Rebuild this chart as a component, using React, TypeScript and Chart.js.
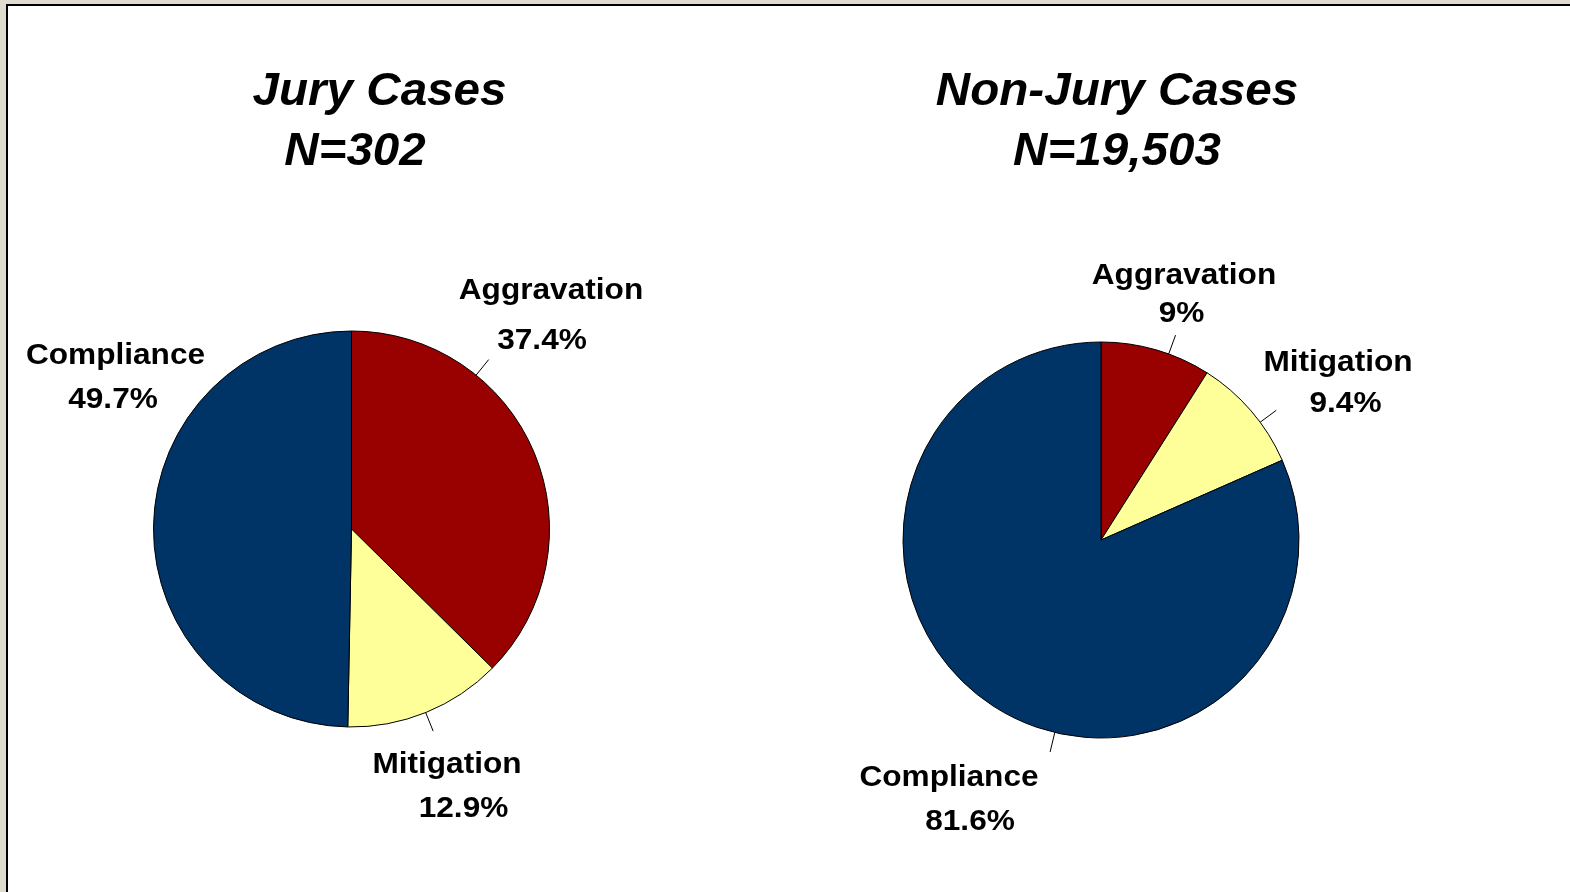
import React, { useEffect, useRef } from "react";
import { Chart, registerables } from "chart.js";

Chart.register(...registerables);

// ---- Data ----
const categories = ["Aggravation", "Mitigation", "Compliance"];
const juryValues = [37.4, 12.9, 49.7];
const nonJuryValues = [9, 9.4, 81.6];
const juryPctLabels = ["37.4%", "12.9%", "49.7%"];
const nonJuryPctLabels = ["9%", "9.4%", "81.6%"];
const juryTitle = ["Jury Cases", "N=302"];
const nonJuryTitle = ["Non-Jury Cases", "N=19,503"];

// ---- Styles ----
const sliceColors = ["#990000", "#FFFF99", "#003366"];
const FONT_FAMILY = "'Liberation Sans', Arial, Helvetica, sans-serif";
const TITLE_FONT = `italic bold 46px ${FONT_FAMILY}`;
const LABEL_FONT = `bold 29px ${FONT_FAMILY}`;
const TITLE_SX = 1.035;
const LABEL_SX = 1.09;

type Off = { dx: number; dy: number };
type LabelLayout = { name: Off; pct: Off; leader: number | null };
type Layout = {
  padding: { left: number; right: number; top: number; bottom: number };
  title: Off[];
  labels: LabelLayout[];
};

// ---- Layout (offsets relative to the pie centre) ----
const juryLayout: Layout = {
  padding: { left: 152.5, right: 234.5, top: 330.5, bottom: 164.5 },
  title: [
    { dx: 28, dy: -424 },
    { dx: 3.5, dy: -364 },
  ],
  labels: [
    { name: { dx: 199.5, dy: -230 }, pct: { dx: 190.5, dy: -180 }, leader: 39 },
    { name: { dx: 95.5, dy: 244 }, pct: { dx: 112, dy: 288 }, leader: 158 },
    { name: { dx: -236, dy: -165 }, pct: { dx: -238.5, dy: -121 }, leader: null },
  ],
};

const nonJuryLayout: Layout = {
  padding: { left: 117, right: 270, top: 341.5, bottom: 153.5 },
  title: [
    { dx: 16, dy: -435 },
    { dx: 16, dy: -375 },
  ],
  labels: [
    { name: { dx: 83, dy: -256 }, pct: { dx: 80.5, dy: -218 }, leader: 20 },
    { name: { dx: 237, dy: -169 }, pct: { dx: 244.5, dy: -128 }, leader: 53.5 },
    { name: { dx: -152, dy: 246 }, pct: { dx: -131, dy: 290 }, leader: 193.5 },
  ],
};

function makeLabelPlugin(titleLines: string[], pctLabels: string[], layout: Layout) {
  return {
    id: "pieLabels",
    afterDraw(chart: any) {
      const arcs = chart.getDatasetMeta(0).data;
      if (!arcs.length) return;
      const cx = arcs[0].x;
      const cy = arcs[0].y;
      const r = arcs[0].outerRadius;
      const ctx: CanvasRenderingContext2D = chart.ctx;
      ctx.save();
      ctx.fillStyle = "#000";
      ctx.textAlign = "center";
      ctx.textBaseline = "alphabetic";
      const draw = (text: string, x: number, y: number, font: string, sx: number) => {
        ctx.save();
        ctx.translate(x, y);
        ctx.scale(sx, 1);
        ctx.font = font;
        ctx.fillText(text, 0, 0);
        ctx.restore();
      };
      layout.title.forEach((t, i) => draw(titleLines[i], cx + t.dx, cy + t.dy, TITLE_FONT, TITLE_SX));
      const labels: string[] = chart.data.labels;
      layout.labels.forEach((l, i) => {
        draw(labels[i], cx + l.name.dx, cy + l.name.dy, LABEL_FONT, LABEL_SX);
        draw(pctLabels[i], cx + l.pct.dx, cy + l.pct.dy, LABEL_FONT, LABEL_SX);
        if (l.leader !== null) {
          const a = (l.leader * Math.PI) / 180;
          ctx.beginPath();
          ctx.strokeStyle = "#000";
          ctx.lineWidth = 1;
          ctx.moveTo(cx + r * Math.sin(a), cy - r * Math.cos(a));
          ctx.lineTo(cx + (r + 20) * Math.sin(a), cy - (r + 20) * Math.cos(a));
          ctx.stroke();
        }
      });
      ctx.restore();
    },
  };
}

function PieChart(props: {
  left: number;
  values: number[];
  pctLabels: string[];
  title: string[];
  layout: Layout;
}) {
  const ref = useRef<HTMLCanvasElement | null>(null);
  useEffect(() => {
    if (!ref.current) return;
    const chart = new Chart(ref.current, {
      type: "pie",
      data: {
        labels: categories,
        datasets: [
          {
            data: props.values,
            backgroundColor: sliceColors,
            borderColor: "#000000",
            borderWidth: 1,
          },
        ],
      },
      options: {
        responsive: false,
        animation: false,
        events: [],
        layout: { padding: props.layout.padding },
        plugins: { legend: { display: false }, tooltip: { enabled: false } },
      },
      plugins: [makeLabelPlugin(props.title, props.pctLabels, props.layout)],
    } as any);
    return () => chart.destroy();
  }, []);
  return (
    <canvas
      ref={ref}
      width={785}
      height={892}
      style={{ position: "absolute", left: props.left, top: 0, width: 785, height: 892 }}
    />
  );
}

export default function App() {
  return (
    <div
      style={{
        position: "fixed",
        left: 0,
        top: 0,
        width: 1570,
        height: 892,
        background: "#E0DBD1",
        overflow: "hidden",
      }}
    >
      <div
        style={{
          position: "absolute",
          left: 6,
          top: 4,
          width: 1600,
          height: 950,
          background: "#FFFFFF",
          borderLeft: "2px solid #000",
          borderTop: "2px solid #000",
        }}
      />
      <PieChart left={0} values={juryValues} pctLabels={juryPctLabels} title={juryTitle} layout={juryLayout} />
      <PieChart
        left={785}
        values={nonJuryValues}
        pctLabels={nonJuryPctLabels}
        title={nonJuryTitle}
        layout={nonJuryLayout}
      />
    </div>
  );
}
